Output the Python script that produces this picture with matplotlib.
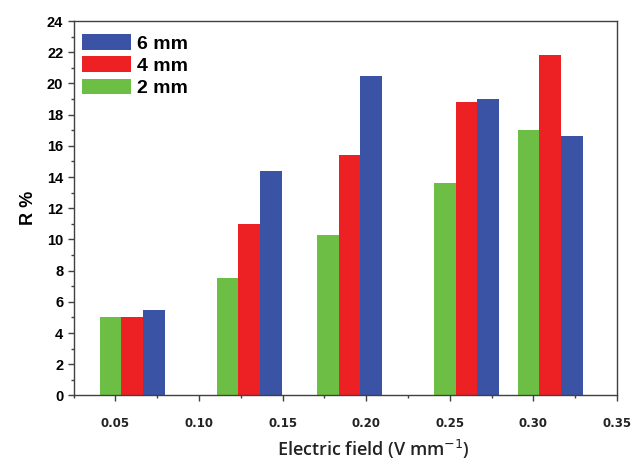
import matplotlib
matplotlib.use("Agg")
import matplotlib.pyplot as plt
from matplotlib.ticker import MultipleLocator, FormatStrFormatter
import numpy as np

# Data
fields = [0.06, 0.13, 0.19, 0.26, 0.31]   # centre of each group (V/mm)
r_2mm = [5.0, 7.5, 10.3, 13.6, 17.0]
r_4mm = [5.05, 11.0, 15.4, 18.8, 21.8]
r_6mm = [5.5, 14.4, 20.5, 19.0, 16.6]
labels = ["6 mm", "4 mm", "2 mm"]
xticks = [0.05, 0.10, 0.15, 0.20, 0.25, 0.30, 0.35]
yticks = list(range(0, 25, 2))

c_blue = "#3A53A4"
c_red = "#ED2024"
c_green = "#6DBE45"

fig = plt.figure(figsize=(6.37, 4.65), dpi=100)
ax = fig.add_axes([0.1157, 0.1495, 0.9686 - 0.1157, 0.9548 - 0.1495])

x = np.array(fields)
w = 0.013
bg = ax.bar(x - w, r_2mm, width=w, color=c_green, linewidth=0)
br = ax.bar(x, r_4mm, width=w, color=c_red, linewidth=0)
bb = ax.bar(x + w, r_6mm, width=w, color=c_blue, linewidth=0)

ax.set_xlim(0.025, 0.35)
ax.set_ylim(0, 24)
ax.set_xticks(xticks)
ax.set_yticks(yticks)
ax.xaxis.set_minor_locator(MultipleLocator(0.025))
ax.yaxis.set_minor_locator(MultipleLocator(1))
ax.xaxis.set_major_formatter(FormatStrFormatter("%.2f"))

for s in ax.spines.values():
    s.set_color("#404040")
    s.set_linewidth(1.0)

ax.tick_params(axis="both", which="both", direction="out", color="#404040", width=1.0)
ax.tick_params(axis="both", which="major", length=4.5)
ax.tick_params(axis="both", which="minor", length=2.5)
ax.tick_params(axis="y", which="major", pad=3)
ax.tick_params(axis="x", which="major", pad=11)

for t in ax.get_yticklabels():
    t.set_fontfamily("Liberation Sans")
    t.set_fontweight("bold")
    t.set_fontsize(10.5)
for t in ax.get_xticklabels():
    t.set_fontfamily("DejaVu Sans")
    t.set_fontweight("bold")
    t.set_fontsize(8.5)
    t.set_color("#222222")

ax.set_ylabel("R %", fontfamily="Liberation Sans", fontweight="bold", fontsize=13, labelpad=7)
ax.set_xlabel("Electric field (V mm$^{-1}$)", fontfamily="Open Sans",
              fontweight="semibold", fontsize=13, labelpad=6, color="#222222")
ax.xaxis.label.set_x(0.551)

leg = ax.legend([bb, br, bg], labels, loc="upper left", bbox_to_anchor=(0.016, 0.965),
                frameon=False, borderaxespad=0, borderpad=0,
                handlelength=2.5, handleheight=0.84, handletextpad=0.3, labelspacing=0.2,
                prop={"family": "Liberation Sans", "weight": "bold", "size": 14})

fig.savefig("out.png", dpi=100)
